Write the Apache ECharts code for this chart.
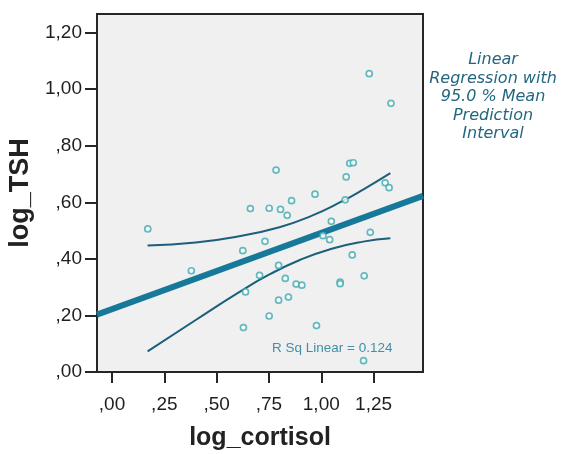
<!DOCTYPE html>
<html>
<head>
<meta charset="utf-8">
<script src="https://cdn.jsdelivr.net/npm/echarts@6/dist/echarts.min.js"></script>
<style>
  html, body { margin: 0; padding: 0; background: #fff; }
  #chart { width: 565px; height: 454px; }
</style>
</head>
<body>
<div id="chart"></div>
<script>
// observed cases [log_cortisol, log_TSH]
const points = [
  [0.171, 0.506], [0.379, 0.358], [0.625, 0.429], [0.628, 0.157], [0.638, 0.283],
  [0.661, 0.578], [0.705, 0.342], [0.731, 0.462], [0.751, 0.579], [0.751, 0.198],
  [0.784, 0.714], [0.796, 0.377], [0.796, 0.254], [0.805, 0.575], [0.828, 0.331],
  [0.837, 0.554], [0.843, 0.265], [0.858, 0.606], [0.880, 0.311], [0.907, 0.307],
  [0.970, 0.629], [0.977, 0.164], [1.008, 0.482], [1.040, 0.468], [1.048, 0.533],
  [1.090, 0.318], [1.090, 0.312], [1.114, 0.609], [1.119, 0.690], [1.136, 0.738],
  [1.153, 0.740], [1.148, 0.414], [1.205, 0.340], [1.202, 0.040], [1.234, 0.494],
  [1.229, 1.055], [1.305, 0.669], [1.324, 0.652], [1.333, 0.950]
]

// fit line, read at the two frame edges
const fitLine = [[-0.072, 0.203], [1.486, 0.623]]

// 95% mean prediction interval
const upperBand = [
  [0.17, 0.447], [0.4, 0.458], [0.6, 0.479], [0.8, 0.512],
  [0.95, 0.551], [1.1, 0.604], [1.2, 0.645], [1.33, 0.703]
]
const lowerBand = [
  [0.17, 0.073], [0.4, 0.184], [0.6, 0.279], [0.75, 0.344],
  [0.9, 0.397], [1.05, 0.436], [1.2, 0.461], [1.33, 0.473]
]

const xTicks = [0, 0.25, 0.5, 0.75, 1, 1.25]
const yTicks = [0, 0.2, 0.4, 0.6, 0.8, 1, 1.2]

// SPSS style: comma decimal, no leading zero
function fmt(v) {
  let s = v.toFixed(2).replace('.', ',')
  if (s.startsWith('0,')) s = s.slice(1)
  return s
}

const chart = echarts.init(document.getElementById('chart'), null, { renderer: 'canvas' })

chart.setOption({
  animation: false,
  grid: {
    left: 97,
    right: 142,
    top: 14,
    bottom: 82,
    outerBoundsMode: 'none',
    show: true,
    backgroundColor: '#f0f0f0',
    borderColor: '#262626',
    borderWidth: 2
  },
  xAxis: {
    type: 'value',
    min: -0.0717,
    max: 1.486,
    name: 'log_cortisol',
    nameLocation: 'middle',
    nameGap: 54,
    nameTextStyle: { fontFamily: 'Liberation Sans', fontWeight: 'bold', fontSize: 25, color: '#222' },
    axisLine: { onZero: false, lineStyle: { color: '#262626', width: 2 } },
    axisTick: { customValues: xTicks, length: 11, lineStyle: { color: '#262626', width: 2 } },
    axisLabel: {
      customValues: xTicks,
      formatter: fmt,
      margin: 23,
      fontFamily: 'Liberation Sans',
      fontSize: 19,
      color: '#1e1e1e'
    },
    splitLine: { show: false }
  },
  yAxis: {
    type: 'value',
    min: 0,
    max: 1.266,
    name: 'log_TSH',
    nameLocation: 'middle',
    nameRotate: 90,
    nameGap: 62,
    nameTextStyle: { fontFamily: 'Liberation Sans', fontWeight: 'bold', fontSize: 27, color: '#222' },
    axisLine: { onZero: false, lineStyle: { color: '#262626', width: 2 } },
    axisTick: { customValues: yTicks, length: 12, lineStyle: { color: '#262626', width: 2 } },
    axisLabel: {
      customValues: yTicks,
      formatter: fmt,
      margin: 15,
      fontFamily: 'Liberation Sans',
      fontSize: 19,
      color: '#1e1e1e'
    },
    splitLine: { show: false }
  },
  graphic: [
    {
      type: 'text',
      x: 493,
      y: 51,
      style: {
        text: 'Linear\nRegression with\n95.0 % Mean\nPrediction\nInterval',
        align: 'center',
        verticalAlign: 'top',
        fontFamily: 'DejaVu Sans',
        fontStyle: 'italic',
        fontSize: 16,
        lineHeight: 18.4,
        fill: '#22667f'
      }
    },
    {
      type: 'text',
      x: 272,
      y: 348,
      style: {
        text: 'R Sq Linear = 0.124',
        verticalAlign: 'middle',
        fontFamily: 'Liberation Sans',
        fontSize: 13.5,
        fill: '#3f8fa6'
      }
    }
  ],
  series: [
    {
      name: 'Fit',
      type: 'line',
      data: fitLine,
      symbol: 'none',
      clip: true,
      lineStyle: { color: '#17799a', width: 6 },
      z: 3
    },
    {
      name: 'Upper',
      type: 'line',
      data: upperBand,
      symbol: 'none',
      smooth: 0.5,
      lineStyle: { color: '#1c5f7c', width: 2 },
      z: 3
    },
    {
      name: 'Lower',
      type: 'line',
      data: lowerBand,
      symbol: 'none',
      smooth: 0.5,
      lineStyle: { color: '#1c5f7c', width: 2 },
      z: 3
    },
    {
      name: 'Cases',
      type: 'scatter',
      data: points,
      symbol: 'circle',
      symbolSize: 6,
      itemStyle: { color: '#ffffff', borderColor: '#3eaab0', borderWidth: 1.7 },
      z: 4
    }
  ]
})
</script>
</body>
</html>
